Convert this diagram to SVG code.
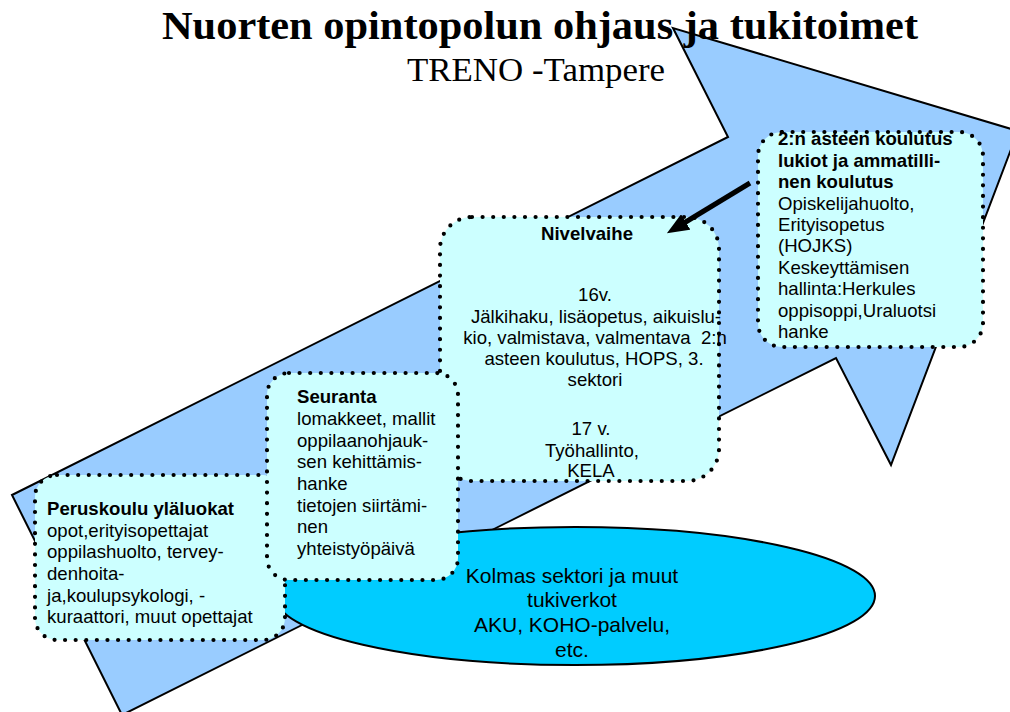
<svg xmlns="http://www.w3.org/2000/svg" width="1010" height="712" viewBox="0 0 1010 712">
<defs>
<style>
.bg{fill:#ffffff}
.big{fill:#99CCFF;stroke:#000;stroke-width:2;stroke-linejoin:miter}
.ell{fill:#00CCFF;stroke:#000;stroke-width:2}
.box{fill:#CCFFFF;stroke:#000;stroke-width:4.2;stroke-dasharray:0 10.6;stroke-linecap:round}
.t{font-family:"Liberation Sans",Arial,sans-serif;font-size:18.6px;fill:#000}
.b{font-weight:bold}
.c{text-anchor:middle}
.e{font-family:"Liberation Sans",Arial,sans-serif;font-size:21px;fill:#000;text-anchor:middle}
.title{font-family:"Liberation Serif","Times New Roman",serif;font-weight:bold;font-size:39px;fill:#000}
.sub{font-family:"Liberation Serif","Times New Roman",serif;font-size:33px;fill:#000}
.conn{stroke:#000;stroke-width:5;fill:none}
</style>
<marker id="head" viewBox="0 0 22 18" refX="2" refY="9" markerWidth="22" markerHeight="18" markerUnits="userSpaceOnUse" orient="auto">
<path d="M0,0 L22,9 L0,18 Z" fill="#000"/>
</marker>
</defs>
<rect class="bg" x="0" y="0" width="1010" height="712"/>
<g id="big-arrow">
<polygon class="big" points="12,495 728,137 673,28 1018,131 891,465 836,358 122,715"/>
</g>
<g id="title">
<text class="title" x="162" y="39" textLength="756" lengthAdjust="spacingAndGlyphs">Nuorten opintopolun ohjaus ja tukitoimet</text>
<text class="sub" x="407" y="81" textLength="258" lengthAdjust="spacingAndGlyphs">TRENO -Tampere</text>
</g>
<g id="kolmas-sektori">
<ellipse class="ell" cx="575" cy="596" rx="300" ry="69"/>
<text class="e" x="572" y="583">Kolmas sektori ja muut</text>
<text class="e" x="572" y="607">tukiverkot</text>
<text class="e" x="572" y="632">AKU, KOHO-palvelu,</text>
<text class="e" x="572" y="657">etc.</text>
</g>
<g id="peruskoulu">
<rect class="box" x="35" y="475" width="250" height="165" rx="22" ry="22"/>
<text class="t b" x="47" y="515">Peruskoulu yläluokat</text>
<text class="t" x="47" y="537">opot,erityisopettajat</text>
<text class="t" x="47" y="558">oppilashuolto, tervey-</text>
<text class="t" x="47" y="580">denhoita-</text>
<text class="t" x="47" y="602">ja,koulupsykologi, -</text>
<text class="t" x="47" y="623">kuraattori, muut opettajat</text>
</g>
<g id="nivelvaihe">
<rect class="box" x="440" y="217" width="279" height="264" rx="32" ry="32"/>
<text class="t b c" x="587" y="240">Nivelvaihe</text>
<text class="t c" x="595" y="301">16v.</text>
<text class="t c" x="596" y="323">Jälkihaku, lisäopetus, aikuislu-</text>
<text class="t c" x="595" y="344">kio, valmistava, valmentava&#160; 2:n</text>
<text class="t c" x="594" y="365">asteen koulutus, HOPS, 3.</text>
<text class="t c" x="595" y="386">sektori</text>
<text class="t c" x="591" y="435">17 v.</text>
<text class="t c" x="592" y="457">Työhallinto,</text>
<text class="t c" x="591" y="477">KELA</text>
</g>
<g id="seuranta">
<rect class="box" x="267" y="373" width="191" height="207" rx="22" ry="22"/>
<text class="t b" x="297" y="403">Seuranta</text>
<text class="t" x="297" y="425">lomakkeet, mallit</text>
<text class="t" x="297" y="447">oppilaanohjauk-</text>
<text class="t" x="297" y="468">sen kehittämis-</text>
<text class="t" x="297" y="490">hanke</text>
<text class="t" x="297" y="512">tietojen siirtämi-</text>
<text class="t" x="297" y="533">nen</text>
<text class="t" x="297" y="555">yhteistyöpäivä</text>
</g>
<g id="toinen-aste">
<rect class="box" x="758" y="132" width="225" height="215" rx="24" ry="24"/>
<text class="t b" x="778" y="145">2:n asteen koulutus</text>
<text class="t b" x="778" y="167">lukiot ja ammatilli-</text>
<text class="t b" x="778" y="188">nen koulutus</text>
<text class="t" x="778" y="210">Opiskelijahuolto,</text>
<text class="t" x="778" y="231">Erityisopetus</text>
<text class="t" x="778" y="252">(HOJKS)</text>
<text class="t" x="778" y="274">Keskeyttämisen</text>
<text class="t" x="778" y="295">hallinta:Herkules</text>
<text class="t" x="778" y="317">oppisoppi,Uraluotsi</text>
<text class="t" x="778" y="338">hanke</text>
</g>
<g id="connectors">
<line class="conn" x1="750" y1="183" x2="684" y2="223" marker-end="url(#head)"/>
</g>
</svg>
